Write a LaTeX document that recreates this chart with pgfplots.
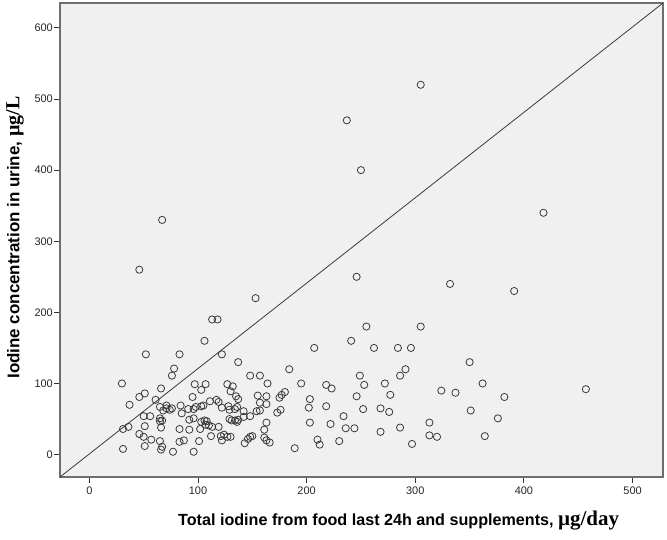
\documentclass[border=0pt]{standalone}
\usepackage{fontspec}
\setmainfont{Liberation Sans}
\newfontfamily\serifb{Liberation Serif}
\usepackage{pgfplots}
\pgfplotsset{compat=1.18}
\definecolor{plotbg}{HTML}{F0F0F0}
\definecolor{frame}{HTML}{6E6E6E}
\definecolor{mk}{HTML}{3A3A3A}

\pgfplotstableread{
x y
305 520
237 470
250 400
418 340
67 330
46 260
153 220
113 190
118 190
106 160
246 250
332 240
391 230
255 180
305 180
241 160
207 150
262 150
284 150
296 150
184 120
122 141
137 130
52 141
83 141
78 121
76 111
30 100
350 130
291 120
286 111
249 111
148 111
157 111
37 70
46 81
51 86
66 93
61 77
65 67
68 62
71 65
71 69
74 63
76 65
50 54
56 54
65 47
67 48
65 51
31 36
36 39
51 40
66 38
46 29
50 25
57 21
51 12
31 8
65 19
67 11
66 7
77 4
83 18
87 20
83 36
92 35
84 69
85 58
91 64
96 64
98 67
103 68
105 69
92 49
96 51
108 47
107 42
113 39
119 39
110 41
96 4
101 19
97 99
107 99
103 91
95 81
111 75
117 77
119 74
102 36
106 48
103 46
112 26
122 20
121 26
124 28
127 25
130 25
122 66
129 63
134 64
128 68
136 67
127 99
132 96
130 89
135 82
137 78
142 61
148 54
142 53
137 49
134 48
136 46
129 50
131 48
143 16
146 22
148 25
150 26
154 61
155 83
157 73
163 71
157 62
163 82
164 100
163 45
161 35
161 24
163 20
166 17
173 59
176 63
175 80
177 84
180 88
195 100
203 78
202 66
218 68
218 98
223 93
203 45
222 43
210 21
212 14
230 19
189 9
234 54
236 37
244 37
246 82
253 98
252 64
268 65
276 60
268 32
272 100
277 84
286 38
297 15
313 45
313 27
320 25
324 90
337 87
351 62
362 100
364 26
376 51
382 81
457 92
}\pts

\begin{document}
\begin{tikzpicture}
\useasboundingbox (-60bp,-63bp) rectangle (607bp,477bp);
\begin{axis}[
    scale only axis,
    width=603bp, height=474bp,
    xmin=-27, xmax=528,
    ymin=-31.5, ymax=635,
    axis background/.style={fill=plotbg},
    axis line style={frame, line width=1.2pt},
    xtick={0,100,...,500},
    ytick={0,100,...,600},
    xtick pos=bottom, ytick pos=left,
    tick align=outside,
    major tick length=6bp,
    tick style={black!80, line width=0.9pt},
    tick label style={font=\fontsize{11}{13}\selectfont, text=black!85},
    xticklabel style={inner sep=2bp, yshift=-2bp},
    yticklabel style={inner sep=1bp},
    /pgf/number format/assume math mode=true,
    xlabel={Total iodine from food last 24h and supplements, {\serifb\fontsize{21}{23}\selectfont µg/day}},
    ylabel={Iodine concentration in urine, {\serifb\fontsize{20}{22}\selectfont µg/L}},
    xlabel style={font=\bfseries\fontsize{16.2}{18}\selectfont, at={(axis description cs:0.5615,0)}, anchor=north, yshift=-30bp},
    ylabel style={font=\bfseries\fontsize{17}{19}\selectfont, inner sep=1bp, at={(axis description cs:0,0.505)}, anchor=south, yshift=35bp},
]
\addplot[mk, line width=0.8pt] coordinates {(-27,-31.5) (528,635)};
\addplot[only marks, mark=o, mark size=3.6bp, mark options={draw=mk, line width=0.8pt}] table {\pts};
\end{axis}
\end{tikzpicture}
\end{document}
